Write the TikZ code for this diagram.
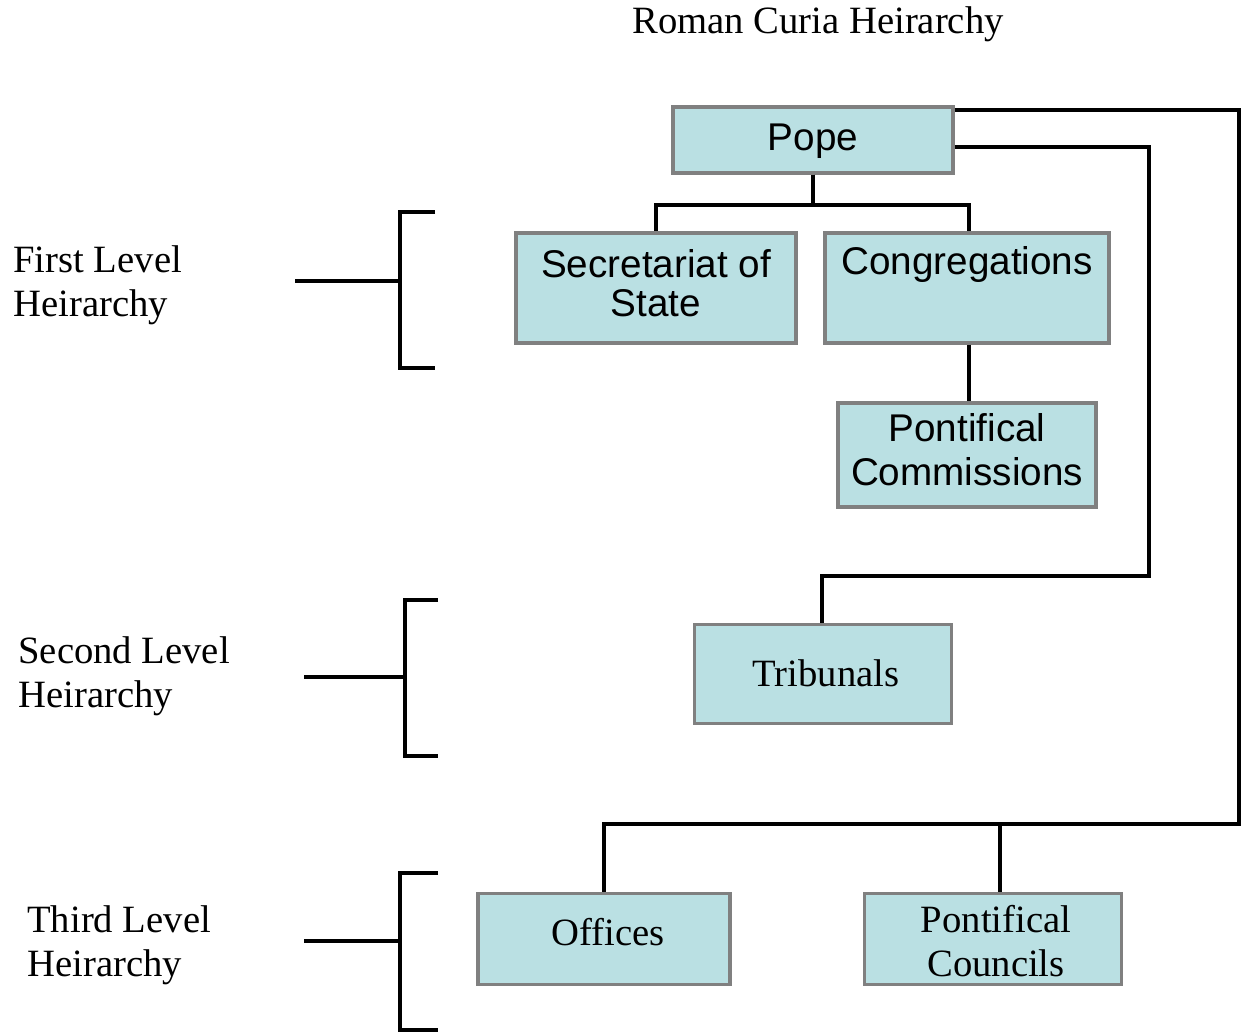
\documentclass[tikz,border=0pt]{standalone}
\usepackage{fontspec}
\setmainfont{Liberation Serif}
\setsansfont{Liberation Sans}
\usetikzlibrary{calc}
\definecolor{boxfill}{RGB}{186,224,227}
\definecolor{boxline}{RGB}{128,128,128}
\begin{document}
\begin{tikzpicture}[
            x=0.02cm, y=-0.02cm,
            unit/.style={rectangle, draw=boxline, fill=boxfill, line width=2pt, align=center, inner sep=0pt},
            sans/.style={font=\fontsize{22}{25}\selectfont\sffamily, align=center},
            serif/.style={font=\fontsize{22}{25}\selectfont\rmfamily, align=center},
            side/.style={font=\fontsize{22}{25}\selectfont\rmfamily, align=left, anchor=west, inner sep=0pt},
            link/.style={line width=2.1pt},
        ]
            \useasboundingbox (0,0) rectangle (1241,1033);

            % Title
            \node[serif] (title) at (818, 24) {Roman Curia Heirarchy};

            % Top of the hierarchy
            \node[unit, sans, minimum width=5.6cm, minimum height=1.32cm] (pope) at (813, 140) {};
            \node[sans] (popetext) at (813, 141) {Pope};

            % First level
            \node[unit, minimum width=5.6cm, minimum height=2.2cm] (secr) at (656, 288) {};
            \node[sans, font=\fontsize{22}{22}\selectfont\sffamily] (secrtext) at (656, 283) {Secretariat of\\State};
            \node[unit, minimum width=5.68cm, minimum height=2.2cm] (congr) at (967, 288) {};
            \node[sans] (congrtext) at (967, 265) {Congregations};
            \node[unit, minimum width=5.16cm, minimum height=2.08cm] (commis) at (967, 455) {};
            \node[sans] (commistext) at (967, 450) {Pontifical\\Commissions};

            % Second level
            \node[unit, minimum width=5.14cm, minimum height=1.98cm] (tribunals) at (823, 674) {};
            \node[serif] (tribtext) at (826, 673) {Tribunals};

            % Third level
            \node[unit, minimum width=5.04cm, minimum height=1.82cm] (offices) at (604, 939) {};
            \node[serif] (offtext) at (608, 932) {Offices};
            \node[unit, minimum width=5.14cm, minimum height=1.82cm] (councils) at (993, 939) {};
            \node[serif] (counctext) at (996, 941) {Pontifical\\Councils};

            % Links
            \coordinate (outer) at (1239, 824);
            \coordinate (inner) at (1149, 576);
            \draw[link] (pope.south) -- ++(0, 30) -| (secr.north);
            \draw[link] (pope.south) -- ++(0, 30) -| ([xshift=1pt]congr.north);
            \draw[link] ([xshift=1pt]congr.south) -- ([xshift=1pt]commis.north);
            \draw[link] ($(pope.east)+(0, 7)$) -| (inner) -| ([xshift=-0.5pt]tribunals.north);
            \draw[link] ($(pope.north east)+(0, 5)$) -| (outer) -| (offices.north);
            \draw[link] ([xshift=4pt]councils.north) -- ([xshift=4pt]councils.north |- outer);

            % Level brackets
            \node[side] (first) at (13, 285) {First Level\\Heirarchy};
            \draw[link] (295, 281) -- (400, 281);
            \draw[link] (435, 212) -- (400, 212) -- (400, 368) -- (435, 368);

            \node[side] (second) at (18, 676) {Second Level\\Heirarchy};
            \draw[link] (304, 677) -- (405, 677);
            \draw[link] (438, 600) -- (405, 600) -- (405, 756) -- (438, 756);

            \node[side] (third) at (27, 945) {Third Level\\Heirarchy};
            \draw[link] (304, 941) -- (400, 941);
            \draw[link] (438, 873) -- (400, 873) -- (400, 1030) -- (438, 1030);
        \end{tikzpicture}
\end{document}
